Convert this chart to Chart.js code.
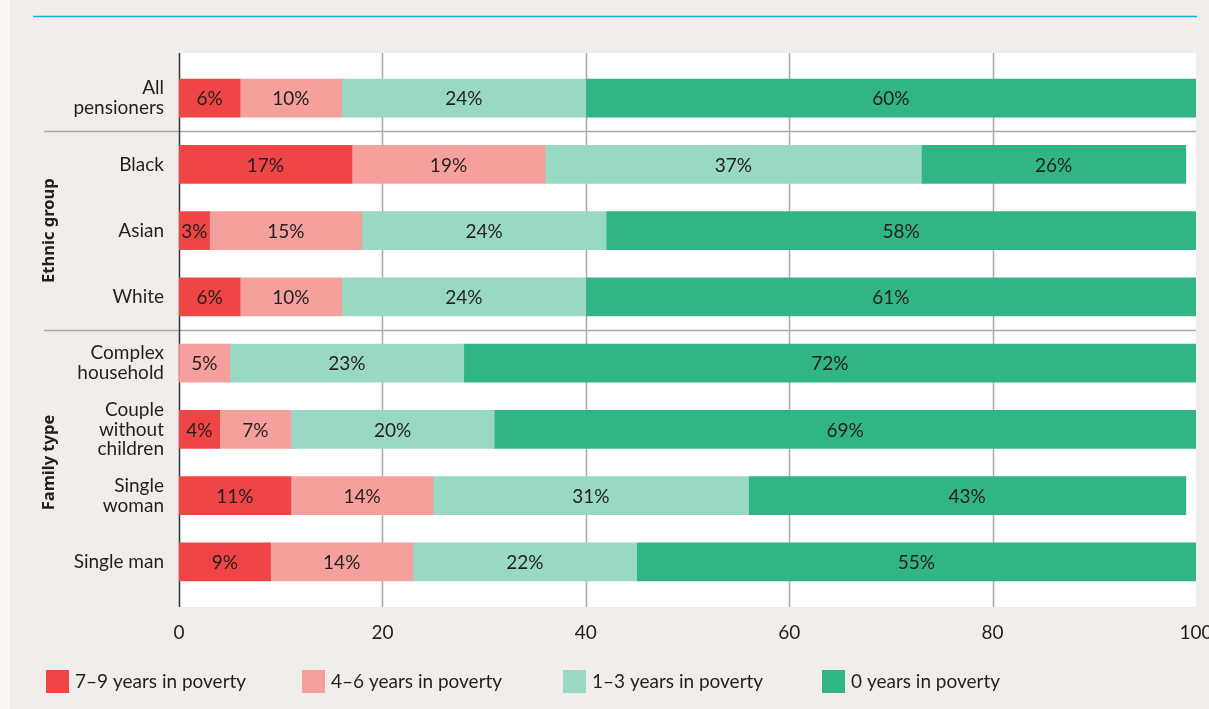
<!DOCTYPE html>
<html>
<head>
<meta charset="utf-8">
<script src="https://cdn.jsdelivr.net/npm/chart.js@4"></script>
<style>
  html, body { margin: 0; padding: 0; background: #f0edea; }
  #wrap { width: 1209px; height: 709px; position: relative; }
</style>
</head>
<body>
<div id="wrap"><canvas id="chart" width="1209" height="709"></canvas></div>
<script>
// Share of pensioners by number of years spent in poverty (out of 9)
const categories = [
  ["All", "pensioners"], "Black", "Asian", "White",
  ["Complex", "household"], ["Couple", "without", "children"], ["Single", "woman"], "Single man"
];
const years7to9 = [6, 17, 3, 6, 0, 4, 11, 9];
const years4to6 = [10, 19, 15, 10, 5, 7, 14, 14];
const years1to3 = [24, 37, 24, 24, 23, 20, 31, 22];
const years0    = [60, 26, 58, 61, 72, 69, 43, 55];
const seriesNames = ["7–9 years in poverty", "4–6 years in poverty", "1–3 years in poverty", "0 years in poverty"];
const seriesColors = ["#f04546", "#f6a09e", "#99d9c3", "#32b585"];
const xTicks = [0, 20, 40, 60, 80, 100];
const groupNames = ["Ethnic group", "Family type"];
const groupStart = [1, 4];
const groupEnd = [3, 7];

const FONT = "Lato, 'Open Sans', sans-serif";
const TITLE_FONT = "'Noto Sans', 'Open Sans', sans-serif";
const TEXT = "#231f20";

const frame = {
  id: "frame",
  beforeDraw(chart) {
    const ctx = chart.ctx;
    ctx.save();
    ctx.fillStyle = "#f0edea";
    ctx.fillRect(0, 0, chart.width, chart.height);
    ctx.fillStyle = "#f8f7f5";
    ctx.fillRect(0, 0, 10, chart.height);
    ctx.strokeStyle = "#12b0e0";
    ctx.lineWidth = 1.5;
    ctx.beginPath();
    ctx.moveTo(33, 16.5);
    ctx.lineTo(1197, 16.5);
    ctx.stroke();
    ctx.restore();
  },
  beforeDatasetsDraw(chart) {
    const { ctx, chartArea: ca, scales } = chart;
    const xs = scales.x, ys = scales.y;
    const top = ca.top - 12, bottom = ca.bottom + 12;
    ctx.save();
    ctx.fillStyle = "#ffffff";
    ctx.fillRect(ca.left, top, ca.right - ca.left, bottom - top);
    // vertical grid
    ctx.strokeStyle = "#a9a9a9";
    ctx.lineWidth = 1.5;
    xTicks.slice(1, -1).forEach(v => {
      const px = Math.round(xs.getPixelForValue(v)) + 0.5;
      ctx.beginPath();
      ctx.moveTo(px, top);
      ctx.lineTo(px, bottom);
      ctx.stroke();
    });
    // group separators
    groupStart.forEach(s => {
      const py = Math.round((ys.getPixelForValue(s - 1) + ys.getPixelForValue(s)) / 2) + 0.5;
      ctx.beginPath();
      ctx.moveTo(44, py);
      ctx.lineTo(ca.right, py);
      ctx.stroke();
    });
    // zero axis
    ctx.strokeStyle = "#333333";
    const zx = Math.round(xs.getPixelForValue(0)) + 0.5;
    ctx.beginPath();
    ctx.moveTo(zx, top);
    ctx.lineTo(zx, bottom);
    ctx.stroke();
    // group titles
    ctx.fillStyle = TEXT;
    ctx.font = "bold 16.5px " + TITLE_FONT;
    ctx.textAlign = "center";
    ctx.textBaseline = "middle";
    groupNames.forEach((name, i) => {
      const cy = (ys.getPixelForValue(groupStart[i]) + ys.getPixelForValue(groupEnd[i])) / 2;
      ctx.save();
      ctx.translate(49, cy);
      ctx.rotate(-Math.PI / 2);
      ctx.fillText(name, 0, 0);
      ctx.restore();
    });
    ctx.restore();
  },
  afterDatasetsDraw(chart) {
    const { ctx, chartArea: ca } = chart;
    ctx.save();
    ctx.fillStyle = TEXT;
    ctx.font = "19px " + FONT;
    ctx.textAlign = "center";
    ctx.textBaseline = "middle";
    chart.data.datasets.forEach((ds, di) => {
      const meta = chart.getDatasetMeta(di);
      meta.data.forEach((el, i) => {
        const v = ds.data[i];
        if (!v) return;
        const { x, y, base } = el.getProps(["x", "y", "base"], true);
        const x1 = Math.min(Math.max(x, base), ca.right);
        const x0 = Math.min(x, base);
        ctx.fillText(v + "%", (x0 + x1) / 2, y + 1);
      });
    });
    ctx.restore();
  },
  afterDraw(chart) {
    const ctx = chart.ctx;
    const boxX = [46, 302, 563, 822];
    ctx.save();
    ctx.font = "19px " + FONT;
    ctx.textAlign = "left";
    ctx.textBaseline = "middle";
    seriesNames.forEach((name, i) => {
      ctx.fillStyle = seriesColors[i];
      ctx.fillRect(boxX[i], 670, 23, 23);
      ctx.fillStyle = TEXT;
      ctx.fillText(name, boxX[i] + 29, 682);
    });
    ctx.restore();
  }
};

const series = [years7to9, years4to6, years1to3, years0];

new Chart(document.getElementById("chart"), {
  type: "bar",
  data: {
    labels: categories,
    datasets: series.map((d, i) => ({
      label: seriesNames[i],
      data: d,
      backgroundColor: seriesColors[i],
      borderWidth: 0,
      barThickness: 38
    }))
  },
  options: {
    indexAxis: "y",
    responsive: false,
    animation: false,
    devicePixelRatio: 1,
    layout: { padding: { left: 0, right: 13, top: 65, bottom: 0 } },
    plugins: { legend: { display: false }, tooltip: { enabled: false } },
    scales: {
      x: {
        stacked: true,
        min: 0,
        max: 100,
        afterBuildTicks(scale) { scale.ticks = xTicks.map(v => ({ value: v })); },
        afterFit(scale) {
          scale.height = 114;
          scale.paddingLeft = 0;
          scale.paddingRight = 0;
        },
        grid: { display: false, drawTicks: false },
        border: { display: false },
        ticks: { color: TEXT, font: { family: FONT, size: 19 }, padding: 26, maxRotation: 0 }
      },
      y: {
        stacked: true,
        offset: true,
        afterFit(scale) {
          scale.width = 179;
          scale.paddingTop = 0;
          scale.paddingBottom = 0;
        },
        grid: { display: false, drawTicks: false },
        border: { display: false },
        ticks: { color: TEXT, font: { family: FONT, size: 19, lineHeight: 1.05 }, padding: 15, autoSkip: false }
      }
    }
  },
  plugins: [frame]
});
</script>
</body>
</html>
